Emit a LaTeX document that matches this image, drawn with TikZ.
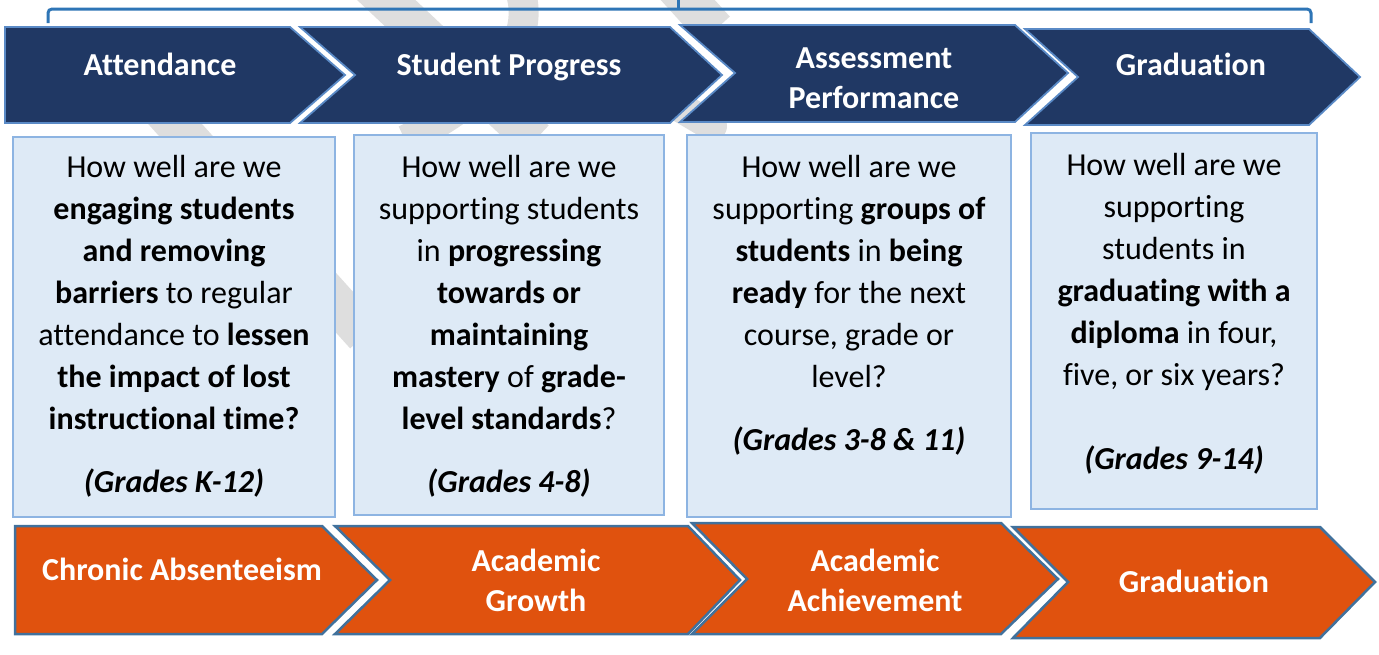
\documentclass[tikz,border=0pt]{standalone}
\usepackage{fontspec}
\setmainfont[Ligatures=NoCommon]{Carlito}
\definecolor{navyc}{HTML}{203864}
\definecolor{navyedge}{HTML}{5A8AC6}
\definecolor{orangec}{HTML}{E0520E}
\definecolor{orangeedge}{HTML}{41719C}
\definecolor{boxfill}{HTML}{DEEAF6}
\definecolor{boxedge}{HTML}{8DB4E2}
\definecolor{bracketc}{HTML}{2E75B6}
\definecolor{wmgray}{HTML}{DEDEDE}
\begin{document}
\begin{tikzpicture}[x=1pt,y=-1pt,
  navy/.style={fill=navyc, draw=navyedge, line width=1.8pt},
  orng/.style={fill=orangec, draw=orangeedge, line width=2.5pt},
  qbox/.style={fill=boxfill, draw=boxedge, line width=1.5pt},
  hlabel/.style={text=white, font=\bfseries\fontsize{32}{40}\selectfont, align=center, inner sep=0pt},
  qtext/.style={font=\fontsize{32}{42}\selectfont, align=center, anchor=north, inner sep=0pt},
  wm/.style={draw=wmgray, line width=40pt}]
\useasboundingbox (0,0) rectangle (1379,654);
% watermark
\draw[wm] (365,-20) -- (535,140);
\draw[wm] (140,85) -- (365,335);
\draw[wm, line width=30pt] (518,-15) .. controls (545,50) and (470,110) .. (405,140);
\draw[wm] (665,-25) -- (715,30);
\draw[wm, line width=30pt, line cap=round] (600,60) -- (712,126);
% bracket
\draw[bracketc, line width=3pt, rounded corners=4pt] (48,23) -- (48,9) -- (1311,9) -- (1311,23);
\draw[bracketc, line width=3pt] (678,9) -- (678,0);
% top chevrons
\draw[navy] (5,27) -- (290,27) -- (345,75) -- (290,123) -- (5,123) -- cycle;
\draw[navy] (300,27) -- (670,27) -- (722,75) -- (670,123) -- (300,123) -- (355,75) -- cycle;
\draw[navy] (680,25) -- (1015,25) -- (1068,73) -- (1015,122) -- (680,122) -- (735,73) -- cycle;
\draw[navy] (1025,29) -- (1309,29) -- (1360,77) -- (1309,125) -- (1025,125) -- (1078,77) -- cycle;
\node[hlabel, anchor=base] (h1) at (160,75) {Attendance};
\node[hlabel, anchor=base] (h2) at (509,75) {Student Progress};
\node[hlabel, anchor=north] (h3) at (874,48) {Assessment\\Performance};
\node[hlabel, anchor=base] (h4) at (1191,75) {Graduation};
% question boxes
\draw[qbox] (13,137) rectangle (335,517);
\draw[qbox] (354,135) rectangle (664,515);
\draw[qbox] (687,135) rectangle (1011,517);
\draw[qbox] (1031,133) rectangle (1317,509);
\node[qtext] (q1) at (174,155) {How well are we\\
\textbf{engaging students}\\
\textbf{and removing}\\
\textbf{barriers} to regular\\
attendance to \textbf{lessen}\\
\textbf{the impact of lost}\\
\textbf{instructional time?}\\[21pt]
\textbf{\itshape (Grades K-12)}};
\node[qtext] (q2) at (509,155) {How well are we\\
supporting students\\
in \textbf{progressing}\\
\textbf{towards or}\\
\textbf{maintaining}\\
\textbf{mastery} of \textbf{grade-}\\
\textbf{level standards}?\\[21pt]
\textbf{\itshape (Grades 4-8)}};
\node[qtext] (q3) at (849,155) {How well are we\\
supporting \textbf{groups of}\\
\textbf{students} in \textbf{being}\\
\textbf{ready} for the next\\
course, grade or\\
level?\\[21pt]
\textbf{\itshape (Grades 3-8 \& 11)}};
\node[qtext] (q4) at (1174,153) {How well are we\\
supporting\\
students in\\
\textbf{graduating with a}\\
\textbf{diploma} in four,\\
five, or six years?\\[42pt]
\textbf{\itshape (Grades 9-14)}};
% bottom chevrons
\draw[orng] (15,526) -- (322,526) -- (377,580) -- (322,634) -- (15,634) -- cycle;
\draw[orng] (335,526) -- (688,526) -- (740,580) -- (688,634) -- (335,634) -- (390,580) -- cycle;
\draw[orng] (692,523) -- (1001,523) -- (1058,579) -- (1001,634) -- (692,634) -- (747,579) -- cycle;
\draw[orng] (1013,527) -- (1320,527) -- (1375,582) -- (1320,638) -- (1013,638) -- (1068,582) -- cycle;
\node[hlabel, anchor=base] (o1) at (182,580) {Chronic Absenteeism};
\node[hlabel, anchor=north] (o2) at (536,549) {Academic\\Growth};
\node[hlabel, anchor=north] (o3) at (875,549) {Academic\\Achievement};
\node[hlabel, anchor=base] (o4) at (1194,592) {Graduation};
\end{tikzpicture}
\end{document}
